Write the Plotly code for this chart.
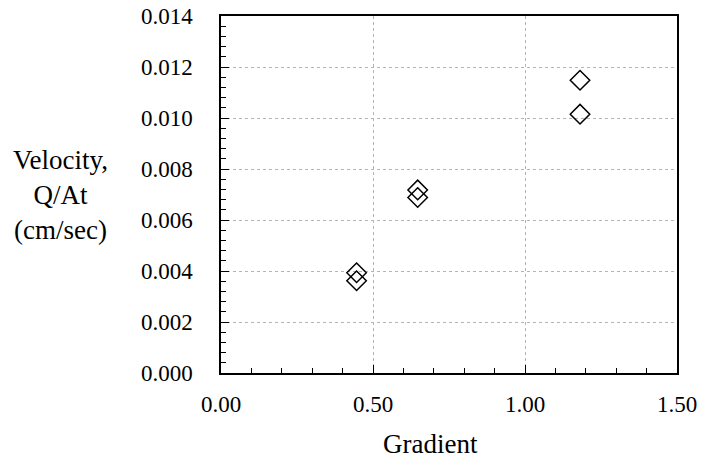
import plotly.graph_objects as go

gradient = [0.446, 0.446, 0.647, 0.647, 1.181, 1.181]
velocity = [0.00393, 0.00362, 0.00718, 0.00688, 0.01148, 0.01015]

x_ticks = [0.0, 0.5, 1.0, 1.5]
x_tick_labels = ["0.00", "0.50", "1.00", "1.50"]
y_ticks = [0.000, 0.002, 0.004, 0.006, 0.008, 0.010, 0.012, 0.014]
y_tick_labels = ["0.000", "0.002", "0.004", "0.006", "0.008", "0.010", "0.012", "0.014"]

x_title = "Gradient"
y_title = "Velocity,<br>Q/At<br>(cm/sec)"

font_family = "'Liberation Serif', serif"

fig = go.Figure()
fig.add_trace(go.Scatter(
    x=gradient, y=velocity, mode="markers",
    marker=dict(symbol="diamond-open", size=15, color="black", line=dict(width=1.5, color="black")),
    showlegend=False,
))

fig.update_layout(
    width=701, height=460,
    margin=dict(l=221, r=24, t=16, b=87, autoexpand=False),
    paper_bgcolor="white", plot_bgcolor="white",
    font=dict(family=font_family, size=23, color="black"),
)
fig.update_xaxes(
    range=[0, 1.5], tickvals=x_ticks, ticktext=x_tick_labels,
    showline=True, linecolor="black", linewidth=1.5, mirror=True,
    ticks="inside", ticklen=8, tickcolor="black", tickwidth=1,
    showgrid=True, gridcolor="#b5b5b5", griddash="dot", gridwidth=1,
    zeroline=False, automargin=False,
    minor=dict(dtick=0.1, ticks="inside", ticklen=5, tickcolor="black", showgrid=False),
    ticklabelstandoff=10,
)
fig.update_yaxes(
    range=[0, 0.014], tickvals=y_ticks, ticktext=y_tick_labels,
    showline=True, linecolor="black", linewidth=1.5, mirror=True,
    ticks="inside", ticklen=8, tickcolor="black", tickwidth=1,
    showgrid=True, gridcolor="#b5b5b5", griddash="dot", gridwidth=1,
    zeroline=False, automargin=False,
    minor=dict(dtick=0.0004, ticks="inside", ticklen=5, tickcolor="black", showgrid=False),
    ticklabelstandoff=22,
)
fig.add_annotation(
    text=y_title, xref="paper", yref="paper",
    x=-0.351, y=0.5, xanchor="center", yanchor="middle", showarrow=False,
    align="center", font=dict(family=font_family, size=27, color="black"),
)
fig.add_annotation(
    text=x_title, xref="paper", yref="paper",
    x=0.4605, y=-0.199, xanchor="center", yanchor="middle", showarrow=False,
    font=dict(family=font_family, size=27, color="black"),
)

fig.write_html("out.html")
